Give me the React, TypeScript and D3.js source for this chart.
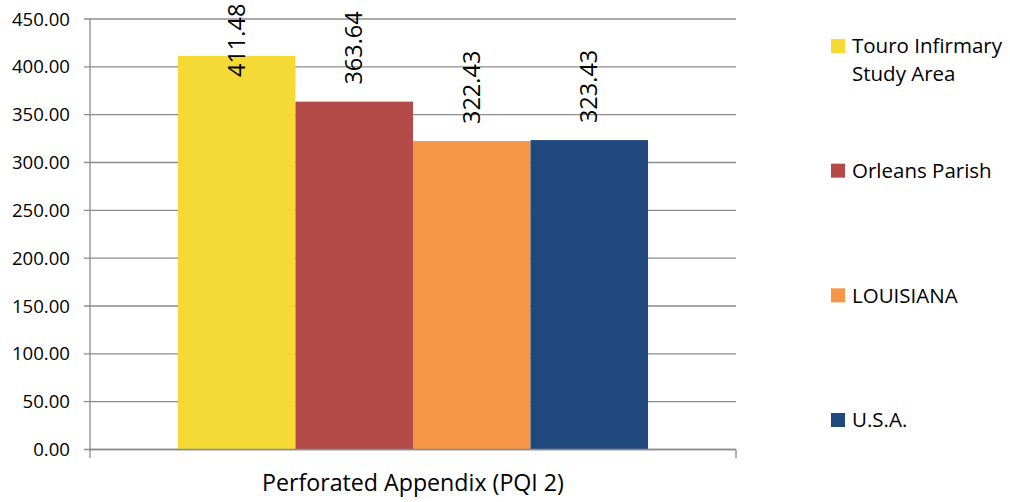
import React from "react";
import * as d3 from "d3";

const categories = ["Perforated Appendix (PQI 2)"];
const seriesNames = ["Touro Infirmary Study Area", "Orleans Parish", "LOUISIANA", "U.S.A."];
const seriesValues = [411.48, 363.64, 322.43, 323.43];
const seriesColors = ["#F5DA35", "#B54B48", "#F79647", "#1F497D"];
const legendLines = [["Touro Infirmary", "Study Area"], ["Orleans Parish"], ["LOUISIANA"], ["U.S.A."]];
const yTicks = [0, 50, 100, 150, 200, 250, 300, 350, 400, 450];

const W = 1010, H = 502;
const FONT = "'Open Sans', 'DejaVu Sans', sans-serif";

export default function App() {
  const left = 90, right = 736, top = 19, bottom = 449.5;
  const y = d3.scaleLinear().domain([0, 450]).range([bottom, top]);
  const xCat = d3.scaleBand().domain(categories).range([left, right]).paddingInner(0).paddingOuter(0);
  const groupW = xCat.bandwidth() * 0.7276;
  const xSeries = d3.scaleBand().domain(seriesNames).range([
    xCat(categories[0])! + (xCat.bandwidth() - groupW) / 2,
    xCat(categories[0])! + (xCat.bandwidth() + groupW) / 2,
  ]);
  const grid = "#8c8c8c";
  const labelFont = 23.5;
  const labelLen = 75;
  const legendY = d3.scalePoint().domain(seriesNames).range([46, 420]);

  return (
    <svg width={W} height={H} style={{ position: "absolute", left: 0, top: 0, background: "#fff" }}>
      {yTicks.map((t) => (
        <g key={t}>
          <line x1={left - 6} x2={right} y1={y(t)} y2={y(t)} stroke={grid} strokeWidth={1.3} />
          <text x={70} y={y(t)} dy="0.35em" textAnchor="end" fontFamily={FONT} fontSize={18.6} fill="#000">
            {t.toFixed(2)}
          </text>
        </g>
      ))}
      {seriesNames.map((s, i) => {
        const x0 = xSeries(s)!;
        const bw = xSeries.bandwidth();
        const v = seriesValues[i];
        const yTop = y(v);
        let start = yTop - 17;
        if (start - labelLen < 2) start = 2 + labelLen;
        return (
          <g key={s}>
            <rect x={x0} y={yTop} width={bw} height={bottom - yTop} fill={seriesColors[i]} />
            <text
              transform={`translate(${x0 + bw / 2},${start}) rotate(-90)`}
              dy="0.35em"
              fontFamily={FONT}
              fontSize={labelFont}
              fill="#000"
            >
              {v.toFixed(2)}
            </text>
          </g>
        );
      })}
      <line x1={left} x2={left} y1={top} y2={458} stroke={grid} strokeWidth={1.3} />
      <line x1={left} x2={right} y1={bottom} y2={bottom} stroke={grid} strokeWidth={1.3} />
      <line x1={right} x2={right} y1={bottom} y2={458} stroke={grid} strokeWidth={1.3} />
      <text x={(left + right) / 2} y={491} textAnchor="middle" fontFamily={FONT} fontSize={23.2} fill="#000">
        {categories[0]}
      </text>
      {seriesNames.map((s, i) => {
        const cy = legendY(s)!;
        return (
          <g key={s}>
            <rect x={831} y={cy - 7} width={14} height={14} fill={seriesColors[i]} />
            {legendLines[i].map((ln, j) => (
              <text key={j} x={852} y={cy + j * 28} dy="0.35em" fontFamily={FONT} fontSize={20.5} fill="#000">
                {ln}
              </text>
            ))}
          </g>
        );
      })}
    </svg>
  );
}
